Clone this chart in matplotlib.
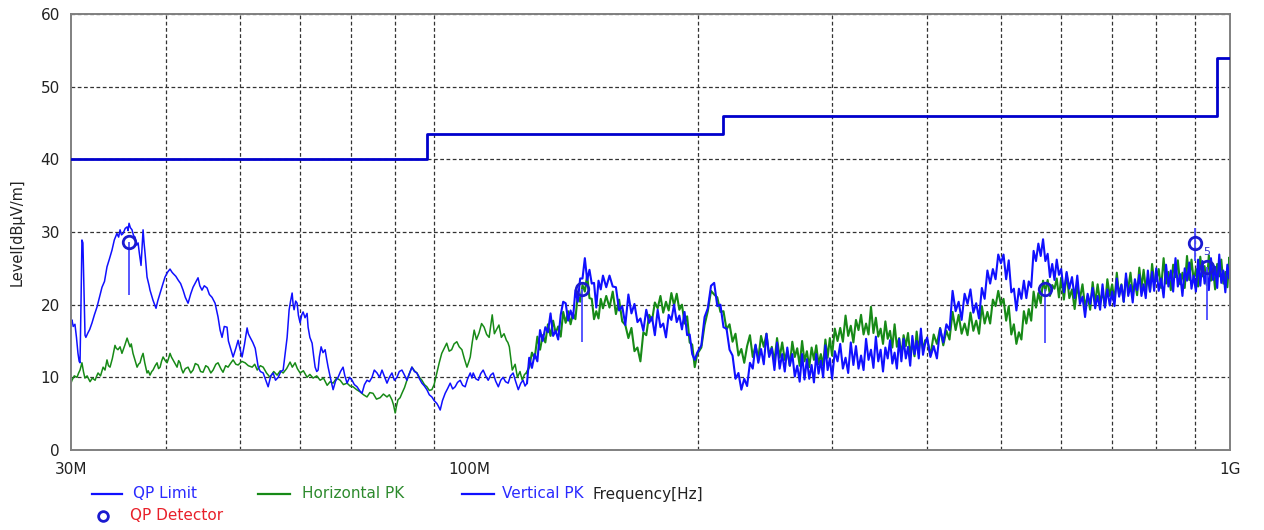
import matplotlib
matplotlib.use("Agg")
import matplotlib.pyplot as plt
from matplotlib.lines import Line2D
from matplotlib.ticker import FixedLocator, NullFormatter

# ---------------- data (frequency in MHz, level in dBuV/m) ----------------
limit_freq = [30, 88, 216, 960, 1000]
limit_level = [40, 43.5, 46, 54, 54]

x_ticks = [30, 100, 1000]
x_tick_labels = ["30M", "100M", "1G"]
x_grid = [40, 50, 60, 70, 80, 90, 100, 200, 300, 400, 500, 600, 700, 800, 900]
y_ticks = [0, 10, 20, 30, 40, 50, 60]

qp_freq = [35.76, 140.8, 571.0, 900.0, 933.0]
qp_level = [28.6, 22.1, 22.1, 28.5, 25.2]
qp_stick_top = [28.6, 22.1, 22.1, 30.5, 25.2]
qp_stick_bottom = [21.3, 14.9, 14.7, 26.0, 17.9]

horizontal_pk_low = [
    (30.0, 9.2), (30.09, 9.6), (30.3, 10.2), (30.55, 10.0), (30.7, 10.6), (30.83, 11.0), (31.01, 12.0),
    (31.15, 10.8), (31.29, 9.9), (31.5, 10.2), (31.78, 9.4), (32.0, 9.9), (32.27, 9.6), (32.4, 10.1),
    (32.56, 10.6), (32.8, 10.2), (33.06, 11.4), (33.25, 11.0), (33.45, 12.4), (33.6, 11.6), (33.76, 11.4),
    (34.0, 12.6), (34.27, 14.4), (34.4, 14.0), (34.58, 13.8), (34.8, 14.2), (35.0, 13.3), (35.3, 14.4),
    (35.55, 15.4), (35.7, 14.8), (35.87, 14.2), (36.0, 14.6), (36.19, 13.3), (36.4, 12.4), (36.64, 11.4),
    (36.8, 11.8), (36.97, 12.0), (37.15, 12.8), (37.31, 13.3), (37.5, 12.0), (37.76, 10.6), (37.9, 10.9),
    (38.1, 10.3), (38.3, 10.8), (38.45, 11.0), (38.7, 11.6), (38.92, 12.0), (39.1, 11.2), (39.28, 11.4),
    (39.45, 12.2), (39.64, 12.8), (39.9, 12.3), (40.12, 12.0), (40.3, 12.6), (40.48, 13.3), (40.65, 12.8),
    (40.85, 12.4), (41.1, 11.9), (41.35, 11.4), (41.55, 12.3), (41.73, 12.0), (41.9, 11.2), (42.11, 10.6),
    (42.4, 11.2), (42.75, 11.4), (43.1, 10.6), (43.4, 11.0), (43.7, 11.9), (44.06, 11.7), (44.4, 10.8),
    (44.73, 10.7), (45.1, 11.6), (45.41, 11.4), (45.8, 10.6), (46.11, 11.0), (46.5, 11.8), (46.81, 12.0),
    (47.2, 11.2), (47.52, 10.7), (47.9, 11.6), (48.25, 11.4), (48.6, 11.9), (48.99, 12.4), (49.4, 11.8),
    (49.74, 11.7), (50.3, 12.2), (50.8, 12.0), (51.3, 11.6), (51.9, 11.4), (52.3, 11.8), (52.7, 11.0),
    (53.2, 11.6), (53.66, 11.4), (54.2, 10.6), (54.79, 10.0), (55.4, 10.8), (55.97, 10.3), (56.5, 10.9),
    (57.0, 10.6), (57.6, 11.2), (58.21, 12.1), (58.6, 11.4), (59.1, 12.0), (59.5, 11.2), (60.0, 10.6),
    (60.6, 10.9), (61.28, 10.0), (61.8, 10.4), (62.41, 9.9), (63.1, 10.2), (63.75, 9.6), (64.4, 9.9),
    (65.12, 8.9), (65.7, 9.4), (66.3, 9.2), (67.0, 9.9), (67.73, 9.6), (68.4, 9.0), (69.16, 9.2),
    (69.8, 8.8), (70.42, 8.7), (71.2, 8.3), (71.95, 8.0), (72.7, 7.6), (73.46, 7.3), (74.1, 7.9),
    (74.81, 7.8), (75.6, 7.0), (76.45, 7.2), (77.2, 7.7), (78.04, 7.3), (78.6, 7.6), (79.22, 6.9),
    (79.6, 6.2), (80.0, 5.1), (80.3, 6.0), (80.67, 6.9), (81.2, 7.2), (81.65, 7.8), (82.3, 8.6),
    (82.89, 9.6), (83.5, 10.5), (84.15, 11.4), (84.8, 10.9), (85.43, 10.6), (86.1, 10.0), (86.73, 9.6),
    (87.4, 9.0), (88.05, 8.7), (88.7, 8.2), (89.39, 8.3), (90.0, 9.0), (90.75, 10.6), (91.4, 12.0),
    (92.1, 13.3), (92.8, 14.0), (93.5, 14.7), (94.2, 13.6), (94.9, 13.8), (95.6, 14.6), (96.4, 14.9),
    (97.1, 14.2), (97.9, 13.8), (98.6, 12.6), (99.4, 11.4), (100.0, 12.2),
    (100.4, 12.8), (101.0, 14.8), (101.6, 16.5), (102.3, 15.2), (103.1, 16.1), (103.9, 17.4), (104.7, 16.9),
    (105.5, 15.9), (106.3, 15.5), (106.8, 17.0), (107.3, 18.6), (108.0, 16.0), (108.6, 16.5), (109.5, 17.2),
    (110.3, 15.5), (111.2, 16.0), (112.0, 15.1), (112.5, 14.8), (113.0, 14.2), (113.5, 12.6), (114.0, 11.0),
    (115.0, 11.8), (115.8, 10.0), (116.7, 10.8), (117.5, 9.6), (118.3, 10.4), (119.0, 10.6),
]

horizontal_pk_high = [
    (120, 11.4), (121, 13.4), (122, 12.6), (123, 15.6), (124, 13.8), (125, 15.8), (126, 14.8), (127, 17.3),
    (128, 15.7), (129, 17.8), (130, 16.1), (131, 17.0), (132, 15.6), (133, 19.0), (134, 17.5), (135, 19.1),
    (136, 17.3), (137, 18.8), (138, 18.0), (139, 21.4), (140, 20.4), (141, 22.7), (142, 21.8), (143, 24.1),
    (144, 20.9), (145, 20.8), (146, 18.0), (147, 19.1), (148, 18.1), (149, 20.8), (150, 19.5),
    (151.5, 21.2), (153, 19.6), (154.5, 21.8), (156, 18.7), (157.5, 20.7), (159, 17.7), (160.5, 17.2),
    (162, 15.4), (163.5, 16.8), (165, 13.6), (166.5, 14.1), (168, 12.2), (169.5, 16.2), (171, 15.8),
    (172.5, 18.6), (174, 17.8), (175.5, 20.3), (177, 19.5), (178.5, 21.2), (180, 18.9), (181.5, 20.4),
    (183, 19.2), (184.5, 21.6), (186, 19.9), (187.5, 21.5), (189, 19.3), (190.5, 20.0), (192, 17.4),
    (193.5, 18.4), (195, 14.8), (196.5, 14.5), (198, 11.4), (199.5, 13.2),
    (202, 14.1), (204, 17.2), (206, 19.1), (208, 21.9), (210, 21.4), (212, 21.0), (214, 19.0), (216, 19.1),
    (218, 16.6), (220, 17.3), (222, 14.9), (224, 16.0), (226, 13.0), (228, 13.9), (230, 12.0), (232, 14.3),
    (234, 15.8), (236, 12.8), (238, 14.4), (240, 12.6), (242, 15.7), (244, 14.2), (246, 16.0), (248, 13.0),
    (250, 14.2), (252, 12.2), (254, 15.4), (256, 12.7), (258, 14.8), (260, 12.4), (262, 13.6), (264, 11.6),
    (266, 14.9), (268, 12.8), (270, 14.0), (272, 11.6), (274, 15.0), (276, 12.2), (278, 13.6), (280, 11.4),
    (282, 14.1), (284, 12.4), (286, 14.4), (288, 11.8), (290, 13.2), (292, 11.6), (294, 15.2), (296, 12.7),
    (298, 15.4),
    (300, 13.0), (302.5, 16.7), (305, 15.0), (307.5, 16.8), (310, 14.9), (312.5, 18.5), (315, 15.7),
    (317.5, 17.1), (320, 14.8), (322.5, 17.9), (325, 16.5), (327.5, 18.6), (330, 15.9), (332.5, 17.4),
    (335, 15.9), (337.5, 19.7), (340, 16.1), (342.5, 18.2), (345, 15.6), (347.5, 16.7), (350, 14.6),
    (352.5, 17.7), (355, 15.3), (357.5, 16.4), (360, 14.1), (362.5, 17.3), (365, 14.2), (367.5, 15.4),
    (370, 13.0), (372.5, 15.8), (375, 14.3), (377.5, 16.1), (380, 13.3), (382.5, 14.6), (385, 12.9),
    (387.5, 16.3), (390, 13.7), (392.5, 16.0), (395, 13.7), (397.5, 15.1),
    (400, 15.2), (404, 13.0), (408, 15.9), (412, 14.6), (416, 16.8), (420, 14.4), (424, 16.4), (428, 15.2),
    (432, 19.0), (436, 16.5), (440, 18.6), (444, 16.0), (448, 17.4), (452, 15.8), (456, 18.9), (460, 16.4),
    (464, 17.8), (468, 16.0), (472, 19.8), (476, 17.4), (480, 19.0), (484, 17.4), (488, 20.7), (492, 19.8),
    (496, 21.9), (500, 20.0), (504, 20.8), (508, 17.8), (512, 19.8), (516, 15.9), (520, 17.3), (524, 14.6),
    (528, 16.2), (532, 15.2), (536, 19.1), (540, 17.4), (544, 19.4), (548, 17.8), (552, 21.8), (556, 19.6),
    (560, 21.6), (564, 20.2), (568, 23.3), (572, 21.9), (576, 23.4), (580, 21.2), (584, 22.7), (588, 22.2),
    (592, 23.6), (596, 21.0), (600, 23.7),
    (605, 20.7), (610, 24.3), (615, 20.9), (620, 22.1), (625, 19.4), (630, 22.5), (635, 20.8), (640, 22.8),
    (645, 19.7), (650, 21.2), (655, 19.3), (660, 23.1), (665, 20.2), (670, 22.8), (675, 20.3), (680, 21.7),
    (685, 19.7), (690, 23.5), (695, 21.2), (700, 22.8), (705, 20.5), (710, 24.4), (715, 21.3), (720, 22.8),
    (725, 20.4), (730, 23.7), (735, 22.2), (740, 24.4), (745, 21.5), (750, 23.1), (755, 21.3), (760, 25.1),
    (765, 22.2), (770, 24.8), (775, 22.3), (780, 23.8), (785, 21.8), (790, 25.6), (795, 23.2),
    (800, 23.3), (806, 24.9), (812, 22.3), (818, 26.4), (824, 22.9), (830, 24.5), (836, 22.0), (842, 25.5),
    (848, 23.8), (854, 26.1), (860, 22.8), (866, 24.4), (872, 22.3), (878, 26.7), (884, 23.4), (890, 26.2),
    (896, 23.3), (902, 24.9), (908, 22.5), (914, 26.6), (920, 23.9), (926, 25.3), (932, 22.7), (938, 26.8),
    (944, 23.3), (950, 24.9), (956, 22.1), (962, 25.6), (968, 23.9), (974, 26.2), (980, 22.9), (986, 24.5),
    (992, 22.4), (998, 26.5), (1000, 24.2),
]

vertical_pk_low = [
    (30.0, 17.6), (30.09, 17.9), (30.2, 17.0), (30.36, 17.3), (30.5, 15.5), (30.64, 13.3), (30.75, 12.2),
    (30.83, 12.0), (30.92, 20.0), (31.01, 28.9), (31.1, 28.5), (31.2, 22.0), (31.3, 15.8), (31.38, 15.5),
    (31.57, 16.1), (31.75, 16.6), (31.97, 17.5), (32.2, 18.6), (32.46, 19.7), (32.7, 21.0), (32.95, 22.4),
    (33.2, 23.2), (33.45, 25.2), (33.7, 26.3), (33.96, 27.5), (34.2, 28.9), (34.47, 29.8), (34.65, 29.3),
    (34.8, 30.3), (34.95, 29.6), (35.12, 29.8), (35.35, 30.5), (35.55, 30.7), (35.65, 30.2), (35.76, 31.2),
    (35.9, 30.6), (36.08, 30.3), (36.25, 29.5), (36.41, 29.3), (36.6, 28.2), (36.75, 28.5), (36.9, 27.0),
    (37.08, 25.4), (37.2, 28.0), (37.31, 30.3), (37.42, 28.5), (37.53, 27.1), (37.76, 23.8), (38.0, 22.6),
    (38.1, 22.0), (38.45, 20.6), (38.8, 19.5), (39.0, 20.5), (39.28, 21.6), (39.6, 22.8), (39.87, 23.8),
    (40.2, 24.5), (40.48, 24.9), (40.7, 24.5), (40.85, 24.3), (41.2, 23.9), (41.48, 23.4), (41.8, 22.9),
    (42.11, 22.0), (42.4, 21.0), (42.75, 20.2), (43.1, 21.5), (43.4, 22.4), (43.7, 23.0), (44.06, 23.7),
    (44.3, 22.6), (44.59, 22.0), (44.9, 22.6), (45.28, 22.3), (45.6, 21.4), (45.97, 21.0), (46.39, 20.2),
    (46.81, 18.3), (47.1, 16.5), (47.38, 15.5), (47.7, 17.0), (48.1, 16.9), (48.3, 15.0), (48.55, 14.2),
    (48.99, 12.8), (49.4, 14.0), (49.74, 15.1), (50.0, 14.0), (50.34, 12.8), (50.7, 14.5), (51.11, 16.8),
    (51.3, 16.0), (51.58, 15.5), (52.0, 14.8), (52.38, 14.0), (52.86, 11.4), (53.2, 10.8), (53.66, 10.6),
    (54.0, 9.8), (54.47, 8.7), (54.9, 10.2), (55.3, 10.6), (55.7, 9.6), (56.15, 10.0), (56.6, 10.8),
    (57.0, 11.0), (57.3, 13.0), (57.69, 15.5), (58.04, 19.3), (58.3, 20.5), (58.57, 21.6), (58.75, 20.0),
    (58.92, 19.3), (59.2, 20.5), (59.46, 20.2), (59.7, 18.5), (60.0, 17.5), (60.3, 18.6), (60.55, 19.0),
    (60.9, 18.2), (61.28, 18.8), (61.47, 16.9), (61.8, 15.5), (62.22, 14.7), (62.5, 13.0), (62.79, 11.4),
    (63.1, 10.8), (63.36, 11.0), (63.6, 12.8), (63.94, 14.2), (64.3, 13.4), (64.72, 13.8), (65.0, 12.6),
    (65.31, 11.4), (65.8, 9.8), (66.3, 8.3), (66.8, 9.5), (67.31, 10.0), (67.8, 10.8), (68.33, 11.4),
    (68.7, 10.2), (69.16, 9.2), (69.7, 10.0), (70.21, 9.6), (70.7, 9.0), (71.28, 8.7), (71.8, 8.2),
    (72.36, 7.8), (72.9, 9.0), (73.46, 9.6), (74.0, 9.4), (74.58, 10.0), (75.1, 11.0), (75.72, 10.6),
    (76.3, 10.0), (76.87, 11.0), (77.4, 10.2), (78.04, 9.2), (78.6, 10.0), (79.22, 10.6), (79.8, 9.6),
    (80.43, 10.0), (81.0, 10.8), (81.65, 11.0), (82.2, 10.4), (82.89, 9.6), (83.5, 10.5), (84.15, 11.4),
    (84.8, 10.8), (85.43, 10.6), (86.1, 9.8), (86.73, 9.2), (87.4, 8.8), (88.05, 8.3), (88.7, 7.6),
    (89.39, 7.3), (90.0, 6.8), (90.75, 6.4), (91.2, 6.0), (91.67, 5.5), (92.3, 6.8), (93.06, 7.8),
    (93.8, 8.5), (94.49, 9.2), (95.2, 8.4), (95.92, 8.7), (96.6, 9.3), (97.39, 9.6), (98.1, 8.9),
    (98.87, 8.7), (99.6, 9.8), (100.4, 10.6), (100.9, 9.9), (101.3, 10.6), (102.1, 9.8), (102.9, 9.6),
    (103.6, 10.5), (104.4, 11.0), (105.2, 10.2), (106.0, 9.6), (106.8, 10.3), (107.6, 10.6), (108.4, 9.5),
    (109.3, 8.7), (110.1, 9.6), (110.9, 10.0), (111.7, 9.4), (112.6, 9.2), (113.4, 10.2), (114.3, 10.6),
    (115.2, 9.4), (116.1, 8.3), (117.0, 9.2), (117.8, 9.6), (118.5, 8.8), (119.2, 9.2),
]

vertical_pk_high = [
    (120, 12.7), (121, 11.3), (122, 13.2), (123, 12.2), (124, 16.5), (125, 15.0), (126, 16.9), (127, 16.2),
    (128, 18.8), (129, 15.7), (130, 16.4), (131, 15.2), (132, 18.6), (133, 20.4), (134, 20.2), (135, 17.8),
    (136, 19.2), (137, 18.1), (138, 22.0), (139, 20.4), (140, 23.6), (141, 23.6), (142, 26.4), (143, 23.4),
    (144, 24.8), (145, 22.9), (146, 23.0), (147, 19.6), (148, 23.3), (149, 22.1), (150, 24.0),
    (151.5, 22.4), (153, 24.0), (154.5, 22.5), (156, 22.4), (157.5, 19.2), (159, 19.8), (160.5, 17.2),
    (162, 21.4), (163.5, 18.8), (165, 20.1), (166.5, 17.6), (168, 18.1), (169.5, 16.4), (171, 19.3),
    (172.5, 17.5), (174, 18.3), (175.5, 15.8), (177, 19.3), (178.5, 16.9), (180, 17.4), (181.5, 15.5),
    (183, 18.6), (184.5, 17.9), (186, 20.0), (187.5, 17.6), (189, 18.5), (190.5, 16.6), (192, 19.0),
    (193.5, 15.8), (195, 15.9), (196.5, 13.2), (198, 12.4), (199.5, 13.4),
    (202, 14.4), (204, 18.3), (206, 19.5), (208, 22.6), (210, 23.0), (212, 19.8), (214, 20.0), (216, 16.9),
    (218, 16.7), (220, 13.8), (222, 13.0), (224, 9.8), (226, 10.6), (228, 8.3), (230, 9.8), (232, 8.8),
    (234, 12.0), (236, 11.2), (238, 14.5), (240, 12.0), (242, 13.9), (244, 11.8), (246, 16.0), (248, 12.8),
    (250, 14.0), (252, 11.0), (254, 14.8), (256, 11.2), (258, 13.2), (260, 10.8), (262, 14.1), (264, 11.6),
    (266, 13.2), (268, 10.1), (270, 11.6), (272, 9.4), (274, 13.2), (276, 9.7), (278, 12.5), (280, 9.8),
    (282, 11.7), (284, 9.3), (286, 13.2), (288, 10.5), (290, 12.3), (292, 10.0), (294, 14.4), (296, 11.0),
    (298, 12.6),
    (300, 9.8), (302.5, 13.6), (305, 12.2), (307.5, 14.6), (310, 11.2), (312.5, 12.7), (315, 10.6),
    (317.5, 14.8), (320, 11.7), (322.5, 14.3), (325, 11.2), (327.5, 13.0), (330, 11.0), (332.5, 15.3),
    (335, 12.4), (337.5, 13.8), (340, 11.3), (342.5, 15.6), (345, 12.2), (347.5, 13.8), (350, 10.8),
    (352.5, 14.1), (355, 12.6), (357.5, 15.1), (360, 11.9), (362.5, 13.4), (365, 11.2), (367.5, 15.3),
    (370, 12.2), (372.5, 15.3), (375, 12.6), (377.5, 14.2), (380, 11.6), (382.5, 15.7), (385, 13.2),
    (387.5, 15.0), (390, 12.6), (392.5, 16.7), (395, 13.1), (397.5, 14.6),
    (400, 15.5), (404, 12.8), (408, 14.3), (412, 12.6), (416, 16.7), (420, 14.8), (424, 17.3), (428, 16.5),
    (432, 21.9), (436, 19.1), (440, 20.4), (444, 17.9), (448, 21.5), (452, 20.1), (456, 22.1), (460, 18.9),
    (464, 20.2), (468, 18.1), (472, 22.3), (476, 20.8), (480, 24.7), (484, 22.9), (488, 24.9), (492, 23.5),
    (496, 26.9), (500, 25.7), (504, 26.9), (508, 23.5), (512, 26.1), (516, 21.7), (520, 22.2), (524, 19.2),
    (528, 22.2), (532, 20.8), (536, 23.3), (540, 20.9), (544, 23.2), (548, 22.4), (552, 27.4), (556, 26.0),
    (560, 28.4), (564, 26.7), (568, 29.0), (572, 26.0), (576, 27.0), (580, 23.8), (584, 25.6), (588, 23.4),
    (592, 26.2), (596, 24.1), (600, 24.9),
    (605, 21.7), (610, 24.5), (615, 22.2), (620, 23.8), (625, 20.9), (630, 24.0), (635, 20.1), (640, 21.1),
    (645, 18.3), (650, 21.5), (655, 20.1), (660, 22.3), (665, 19.5), (670, 21.2), (675, 19.3), (680, 22.8),
    (685, 19.6), (690, 22.1), (695, 19.9), (700, 21.8), (705, 19.8), (710, 23.6), (715, 21.1), (720, 22.7),
    (725, 20.4), (730, 24.3), (735, 21.2), (740, 22.7), (745, 20.3), (750, 23.5), (755, 22.0), (760, 24.1),
    (765, 21.2), (770, 22.8), (775, 20.9), (780, 24.7), (785, 21.8), (790, 24.5), (795, 21.9),
    (800, 25.0), (806, 21.9), (812, 23.6), (818, 21.0), (824, 25.5), (830, 22.5), (836, 24.7), (842, 21.8),
    (848, 26.4), (854, 22.5), (860, 24.2), (866, 21.2), (872, 25.0), (878, 23.3), (884, 25.8), (890, 22.2),
    (896, 24.0), (902, 21.8), (908, 26.2), (914, 22.6), (920, 26.0), (926, 22.9), (932, 24.6), (938, 22.0),
    (944, 26.4), (950, 23.4), (956, 25.2), (962, 22.3), (968, 26.9), (974, 23.0), (980, 24.7), (986, 21.7),
    (992, 25.5), (998, 23.6), (1000, 24.1),
]

# ---------------- figure ----------------
W, H = 1264, 530
fig = plt.figure(figsize=(W / 100, H / 100), dpi=100)
fig.patch.set_facecolor("white")
ax = fig.add_axes([71 / W, 1 - 450 / H, (1230 - 71) / W, (450 - 14) / H])

ax.set_xscale("log")
ax.set_xlim(30, 1000)
ax.set_ylim(0, 60)

ax.xaxis.set_major_locator(FixedLocator(x_ticks))
ax.set_xticklabels(x_tick_labels)
ax.xaxis.set_minor_locator(FixedLocator(x_grid))
ax.xaxis.set_minor_formatter(NullFormatter())
ax.set_yticks(y_ticks)

ax.tick_params(axis="both", which="both", length=0, labelsize=11, colors="#222222")
ax.tick_params(axis="x", pad=9)
ax.tick_params(axis="y", pad=8)

grid_kw = dict(color="#333333", linestyle=(0, (3, 2)), linewidth=0.9)
ax.grid(True, which="minor", axis="x", **grid_kw)
ax.grid(True, which="major", axis="y", **grid_kw)
ax.set_axisbelow(True)

for s in ax.spines.values():
    s.set_color("#808080")
    s.set_linewidth(1.4)

GREEN = "#178a17"
BLUE = "#1010ff"

h_low_f, h_low_l = zip(*horizontal_pk_low)
h_high_f, h_high_l = zip(*(horizontal_pk_low[-1:] + horizontal_pk_high))
v_low_f, v_low_l = zip(*vertical_pk_low)
v_high_f, v_high_l = zip(*(vertical_pk_low[-1:] + vertical_pk_high))

ax.plot(h_low_f, h_low_l, color=GREEN, linewidth=1.1, zorder=2)
ax.plot(h_high_f, h_high_l, color=GREEN, linewidth=1.5, zorder=2)
ax.plot(v_low_f, v_low_l, color=BLUE, linewidth=1.1, zorder=2.5)
ax.plot(v_high_f, v_high_l, color=BLUE, linewidth=1.5, zorder=2.5)
ax.step(limit_freq, limit_level, where="post", color="#0000cc", linewidth=2.0, zorder=3)

ax.vlines(qp_freq, qp_stick_bottom, qp_stick_top, color="#4a4aff", linewidth=1.3, zorder=3.5)
ax.plot(qp_freq, qp_level, linestyle="none", marker="o", markersize=9,
        markerfacecolor="none", markeredgecolor="#1a1ad0", markeredgewidth=2.0, zorder=4)
ax.text(qp_freq[4], qp_level[4] + 2.1, "5", color="#3030d0", fontsize=8,
        ha="center", va="center", zorder=4)

# y label
fig.text(17 / W, 1 - 232 / H, "Level[dBμV/m]", rotation=90, ha="center", va="center",
         fontsize=10.5, color="#222222")

# legend / footer
def fx(px):
    return px / W


def fy(py):
    return 1 - py / H


row1, row2 = 494, 516
fig.add_artist(Line2D([fx(92), fx(122)], [fy(row1), fy(row1)], color=BLUE, linewidth=1.6))
fig.text(fx(133), fy(row1), "QP Limit", color="#2a2aff", fontsize=11, ha="left", va="center")
fig.add_artist(Line2D([fx(258), fx(290)], [fy(row1), fy(row1)], color=GREEN, linewidth=1.6))
fig.text(fx(302), fy(row1), "Horizontal PK", color="#2e8b2e", fontsize=11, ha="left", va="center")
fig.add_artist(Line2D([fx(462), fx(494)], [fy(row1), fy(row1)], color=BLUE, linewidth=1.6))
fig.text(fx(502), fy(row1), "Vertical PK", color="#2a2aff", fontsize=11, ha="left", va="center")
fig.text(fx(592), fy(row1), "Frequency[Hz]", color="#222222", fontsize=11, ha="left", va="center")
fig.add_artist(Line2D([fx(103)], [fy(row2)], marker="o", markersize=7, markerfacecolor="none",
                      markeredgecolor="#1a1ad0", markeredgewidth=2.0, linestyle="none"))
fig.text(fx(130), fy(row2), "QP Detector", color="#e8202a", fontsize=11, ha="left", va="center")

fig.savefig("out.png", dpi=100, facecolor="white")
